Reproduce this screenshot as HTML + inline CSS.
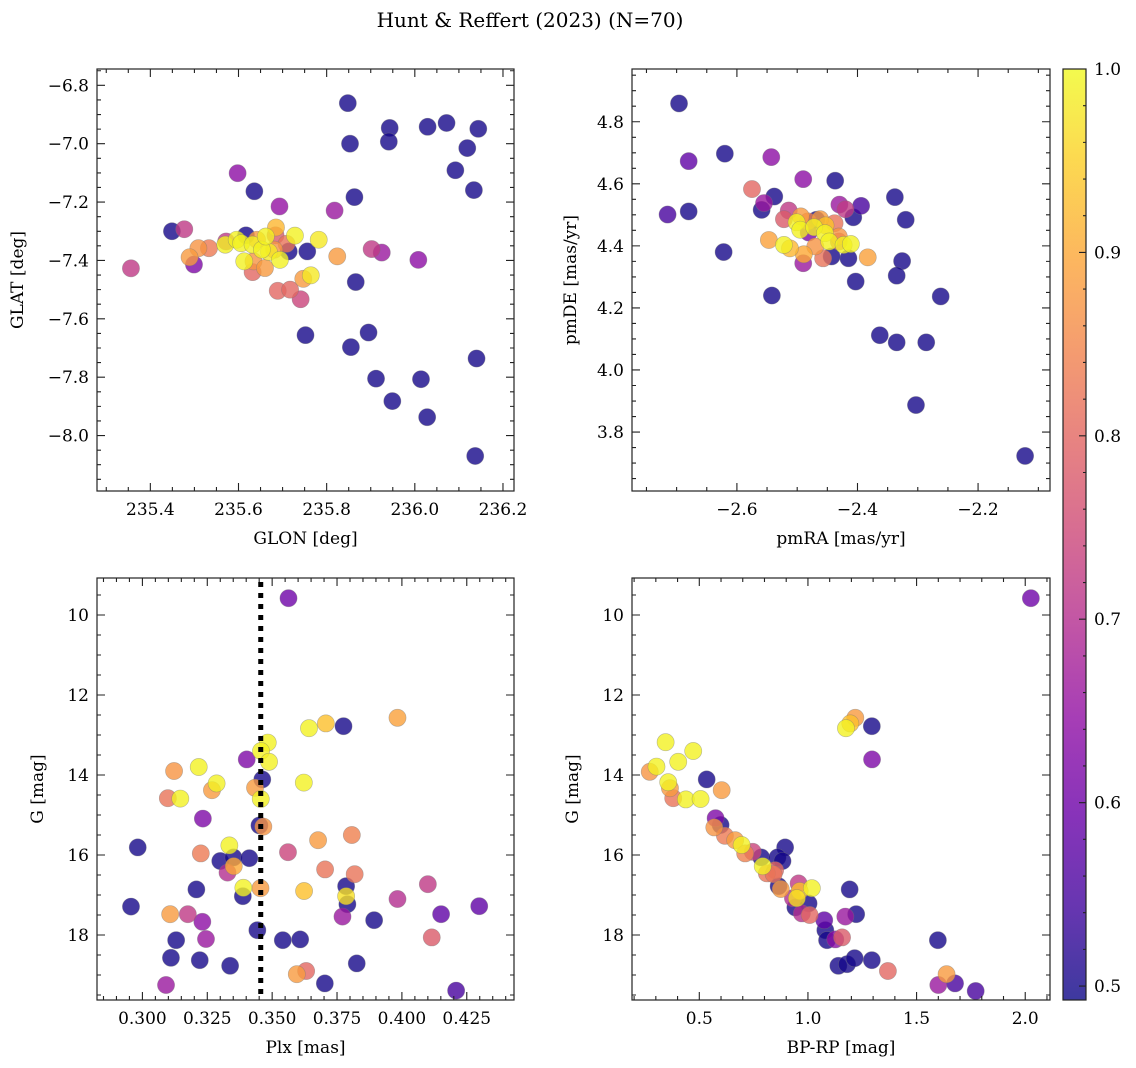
<!DOCTYPE html>
<html><head><meta charset="utf-8"><style>
html,body{margin:0;padding:0;background:#fff;}
svg{display:block;font-family:"DejaVu Serif","Liberation Serif",serif;}
</style></head><body>
<svg id="fig" width="1136" height="1068" viewBox="0 0 1136 1068" xmlns="http://www.w3.org/2000/svg">
<text x="530" y="27" font-size="20" text-anchor="middle">Hunt &amp; Reffert (2023) (N=70)</text>
</svg>
<script>
// ---- Panel 1: GLON / GLAT ----
const p1Glon=[235.848,235.853,235.943,235.941,236.029,236.072,236.144,236.119,236.092,236.134,235.863,235.636,235.598,235.693,235.818,235.449,235.477,235.499,235.356,235.902,235.925,236.008,235.756,235.714,235.617,235.866,235.752,235.895,235.855,235.912,236.014,235.949,236.028,236.140,236.137,235.741,235.689,235.717,235.747,235.764,235.824,235.782,235.728,235.685,235.684,235.709,235.694,235.660,235.632,235.634,235.613,235.489,235.509,235.533,235.572,235.570,235.596,235.606,235.632,235.653,235.662,235.669,235.681,235.642];
const p1Glat=[-6.861,-7.000,-6.946,-6.993,-6.942,-6.929,-6.949,-7.015,-7.091,-7.159,-7.183,-7.163,-7.101,-7.215,-7.229,-7.300,-7.293,-7.414,-7.427,-7.361,-7.373,-7.398,-7.369,-7.369,-7.314,-7.474,-7.656,-7.647,-7.697,-7.805,-7.807,-7.882,-7.937,-7.736,-8.070,-7.533,-7.504,-7.500,-7.463,-7.451,-7.386,-7.329,-7.315,-7.287,-7.314,-7.343,-7.398,-7.426,-7.440,-7.403,-7.403,-7.389,-7.358,-7.358,-7.335,-7.346,-7.329,-7.341,-7.346,-7.363,-7.318,-7.371,-7.363,-7.329];
const p1Prob=[0.5,0.5,0.5,0.5,0.5,0.5,0.5,0.5,0.5,0.5,0.5,0.5,0.64,0.65,0.66,0.5,0.72,0.62,0.72,0.72,0.66,0.64,0.5,0.5,0.5,0.5,0.5,0.5,0.5,0.5,0.5,0.5,0.5,0.5,0.5,0.74,0.8,0.8,0.88,0.98,0.88,0.98,0.99,0.92,0.78,0.82,0.99,0.88,0.8,0.87,0.99,0.88,0.87,0.83,0.72,0.99,0.99,0.99,0.99,0.99,0.99,0.98,0.87,0.88];
// ---- Panel 2: pmRA / pmDE ----
const p2Pmra=[-2.696,-2.715,-2.680,-2.680,-2.620,-2.622,-2.543,-2.538,-2.559,-2.555,-2.542,-2.575,-2.490,-2.437,-2.514,-2.522,-2.430,-2.420,-2.394,-2.407,-2.338,-2.320,-2.326,-2.335,-2.403,-2.415,-2.443,-2.262,-2.363,-2.335,-2.286,-2.303,-2.122,-2.490,-2.489,-2.547,-2.522,-2.512,-2.501,-2.495,-2.494,-2.481,-2.468,-2.472,-2.470,-2.457,-2.453,-2.454,-2.438,-2.447,-2.431,-2.423,-2.411,-2.383,-2.482,-2.431,-2.462];
const p2Pmde=[4.859,4.501,4.673,4.511,4.697,4.380,4.686,4.559,4.516,4.538,4.240,4.583,4.615,4.610,4.514,4.486,4.533,4.518,4.529,4.492,4.557,4.484,4.351,4.304,4.285,4.360,4.366,4.237,4.112,4.089,4.089,3.887,3.723,4.344,4.373,4.419,4.403,4.392,4.476,4.452,4.495,4.443,4.484,4.460,4.398,4.360,4.466,4.441,4.473,4.414,4.430,4.403,4.406,4.363,4.479,4.414,4.486];
const p2Prob=[0.5,0.55,0.58,0.5,0.5,0.5,0.64,0.5,0.5,0.66,0.5,0.8,0.64,0.5,0.72,0.78,0.66,0.72,0.55,0.5,0.5,0.5,0.5,0.5,0.5,0.5,0.5,0.5,0.5,0.5,0.5,0.5,0.5,0.66,0.9,0.89,0.99,0.92,0.99,0.99,0.88,0.62,0.5,0.99,0.87,0.82,0.93,0.99,0.82,0.99,0.87,0.99,0.99,0.89,0.84,0.78,0.88];
// ---- Panel 3: Plx / G ----
const p3Plx=[0.3563,0.3983,0.3707,0.3642,0.3775,0.3483,0.3457,0.3488,0.3402,0.3122,0.3217,0.3286,0.3268,0.3098,0.3146,0.3462,0.3434,0.3456,0.3622,0.3233,0.3451,0.3466,0.3677,0.3807,0.2982,0.3225,0.3561,0.3335,0.3300,0.3351,0.3412,0.3352,0.3328,0.3704,0.3818,0.3389,0.3387,0.3208,0.3455,0.3623,0.3785,0.3785,0.3790,0.4100,0.3983,0.4298,0.2956,0.3107,0.3175,0.3231,0.3771,0.4151,0.3893,0.3443,0.4115,0.3130,0.3245,0.3541,0.3608,0.3110,0.3221,0.3338,0.3826,0.3631,0.3595,0.3703,0.3091,0.4209];
const p3G=[9.58,12.57,12.71,12.83,12.78,13.19,13.40,13.67,13.61,13.90,13.80,14.21,14.38,14.58,14.59,14.11,14.32,14.60,14.19,15.09,15.26,15.29,15.63,15.50,15.81,15.96,15.93,15.76,16.15,16.06,16.08,16.28,16.44,16.36,16.48,16.82,17.03,16.86,16.83,16.90,16.78,17.03,17.23,16.73,17.10,17.28,17.29,17.48,17.48,17.67,17.54,17.48,17.63,17.88,18.06,18.13,18.10,18.13,18.11,18.57,18.63,18.77,18.71,18.90,18.98,19.21,19.25,19.39];
const p3Prob=[0.6,0.89,0.93,0.99,0.5,0.99,0.99,0.99,0.62,0.87,0.99,0.99,0.88,0.82,0.99,0.5,0.88,0.99,0.99,0.62,0.5,0.87,0.88,0.84,0.5,0.83,0.74,0.99,0.5,0.5,0.5,0.9,0.7,0.82,0.82,0.99,0.5,0.5,0.88,0.93,0.5,0.97,0.5,0.72,0.7,0.58,0.5,0.88,0.72,0.64,0.66,0.58,0.5,0.5,0.78,0.5,0.66,0.5,0.5,0.5,0.5,0.5,0.5,0.8,0.88,0.5,0.66,0.55];
const p3Cut=[0.3456];
// ---- Panel 4: BP-RP / G ----
const p4Bprp=[2.026,1.218,1.195,1.175,1.294,1.295,0.345,0.472,0.403,0.303,0.272,0.357,0.365,0.380,0.438,0.506,0.534,0.603,0.575,0.598,0.569,0.618,0.665,0.695,0.711,0.746,0.785,0.792,0.811,0.895,0.860,0.883,0.849,0.842,0.865,0.875,0.957,0.962,1.018,0.931,0.949,1.003,0.942,0.972,1.008,1.192,1.172,1.222,1.075,1.080,1.088,1.126,1.157,1.598,1.140,1.180,1.215,1.294,1.368,1.638,1.600,1.677,1.772];
const p4G=[9.58,12.57,12.71,12.83,12.78,13.61,13.18,13.40,13.67,13.79,13.92,14.18,14.33,14.58,14.61,14.60,14.11,14.38,15.08,15.25,15.31,15.52,15.63,15.75,15.96,15.92,16.06,16.28,16.46,15.81,16.06,16.15,16.38,16.48,16.78,16.85,16.71,16.90,16.83,17.08,17.08,17.21,17.31,17.46,17.50,16.86,17.54,17.48,17.63,17.88,18.13,18.11,18.06,18.13,18.77,18.73,18.58,18.63,18.90,18.98,19.25,19.21,19.40];
const p4Prob=[0.6,0.88,0.93,0.99,0.5,0.62,0.99,0.99,0.99,0.99,0.87,0.99,0.88,0.82,0.99,0.99,0.5,0.88,0.62,0.5,0.87,0.83,0.88,0.99,0.84,0.74,0.5,0.99,0.82,0.5,0.5,0.5,0.8,0.82,0.5,0.88,0.72,0.93,0.99,0.7,0.97,0.5,0.5,0.7,0.8,0.5,0.66,0.5,0.58,0.5,0.5,0.64,0.78,0.5,0.5,0.5,0.5,0.5,0.8,0.88,0.66,0.55,0.55];
// ---- Colorbar ----
const cbTicks=[0.5,0.6,0.7,0.8,0.9,1.0];
const cbTickLabels=["0.5","0.6","0.7","0.8","0.9","1.0"];
const p1XTicks=[235.4,235.6,235.8,236.0,236.2];
const p1YTicks=[-6.8,-7.0,-7.2,-7.4,-7.6,-7.8,-8.0];
const p2XTicks=[-2.6,-2.4,-2.2];
const p2YTicks=[4.8,4.6,4.4,4.2,4.0,3.8];
const p3XTicks=[0.300,0.325,0.350,0.375,0.400,0.425];
const gTicks=[10,12,14,16,18];
const p4XTicks=[0.5,1.0,1.5,2.0];

const NS="http://www.w3.org/2000/svg";
const svg=document.getElementById('fig');
const VMIN=0.4924, VMAX=1.0;
const plasma=[[13,8,135],[65,4,157],[106,0,168],[143,13,164],[177,42,144],[204,71,120],[225,100,98],[242,132,75],[252,166,54],[252,206,37],[240,249,33]];
function cmap(v){let t=(v-VMIN)/(VMAX-VMIN);t=Math.max(0,Math.min(1,t));const s=t*10;const i=Math.min(9,Math.floor(s));const f=s-i;const a=plasma[i],b=plasma[i+1];
 return 'rgb('+[0,1,2].map(k=>Math.round(a[k]+(b[k]-a[k])*f)).join(',')+')';}
function el(tag,attrs,parent){const e=document.createElementNS(NS,tag);for(const k in attrs)e.setAttribute(k,attrs[k]);(parent||svg).appendChild(e);return e;}
function fmt(v,d){const s=Math.abs(v).toFixed(d);return (v<0?'\u2212':'')+s;}

function panel(cfg){
 const g=el('g',{});
 
 
 const [L,T,R,B]=cfg.box;
 const sx=v=>L+(v-cfg.x0)/(cfg.x1-cfg.x0)*(R-L);
 const sy=v=>T+(v-cfg.y0)/(cfg.y1-cfg.y0)*(B-T);
 const idx=cfg.xs.map((_,i)=>i).sort((a,b)=>cfg.ps[a]-cfg.ps[b]);
 const pts=el('g',{},g);
 
 
 idx.forEach(i=>{
  const c=el('circle',{cx:sx(cfg.xs[i]),cy:sy(cfg.ys[i]),r:8.6,fill:cmap(cfg.ps[i]),'fill-opacity':0.8,stroke:'#777','stroke-opacity':0.5,'stroke-width':0.6},pts);
  
  
 });
 if(cfg.vline){const ln=el('line',{x1:sx(cfg.vline[0]),x2:sx(cfg.vline[0]),y1:T+4,y2:B,stroke:'#000','stroke-width':5,'stroke-dasharray':'5 6'},g);
  
  }
 const fr=el('rect',{x:L,y:T,width:R-L,height:B-T,fill:'none',stroke:'#222','stroke-width':1.2},g);
 
 
 const minorX=[],minorY=[];
 for(let v=Math.ceil(Math.min(cfg.x0,cfg.x1)/cfg.xm-1e-6)*cfg.xm;v<=Math.max(cfg.x0,cfg.x1)+1e-9;v+=cfg.xm)minorX.push(v);
 for(let v=Math.ceil(Math.min(cfg.y0,cfg.y1)/cfg.ym-1e-6)*cfg.ym;v<=Math.max(cfg.y0,cfg.y1)+1e-9;v+=cfg.ym)minorY.push(v);
 let d='';
 minorX.forEach(v=>{const x=sx(v);d+=`M${x},${B}v-4M${x},${T}v4`;});
 minorY.forEach(v=>{const y=sy(v);d+=`M${L},${y}h4M${R},${y}h-4`;});
 cfg.xt.forEach(v=>{const x=sx(v);d+=`M${x},${B}v-8M${x},${T}v8`;});
 cfg.yt.forEach(v=>{const y=sy(v);d+=`M${L},${y}h8M${R},${y}h-8`;});
 const tp=el('path',{d:d,stroke:'#222','stroke-width':1.1,fill:'none'},g);
 
 
 cfg.xt.forEach(v=>{const t=el('text',{x:sx(v),y:B+24,'font-size':17,'text-anchor':'middle'},g);t.textContent=fmt(v,cfg.xd);
  
  });
 cfg.yt.forEach(v=>{const t=el('text',{x:L-8,y:sy(v)+6,'font-size':17,'text-anchor':'end'},g);t.textContent=fmt(v,cfg.yd);
  
  });
 const xl=el('text',{x:(L+R)/2,y:B+53,'font-size':17,'text-anchor':'middle'},g);xl.textContent=cfg.xlab;
 
 
 const ycx=cfg.ylx,ycy=(T+B)/2;
 const yl=el('text',{x:ycx,y:ycy,'font-size':17,'text-anchor':'middle',transform:`rotate(-90 ${ycx} ${ycy})`},g);yl.textContent=cfg.ylab;
 
 
}

panel({name:'glon-glat-panel',box:[97,69,514,491],x0:235.279,x1:236.225,y0:-6.744,y1:-8.19,xs:p1Glon,ys:p1Glat,ps:p1Prob,xt:p1XTicks,yt:p1YTicks,xm:0.05,ym:0.05,xd:1,yd:1,xlab:'GLON [deg]',ylab:'GLAT [deg]',ylx:23});
panel({name:'proper-motion-panel',box:[632,69,1050,491],x0:-2.774,x1:-2.0807,y0:4.97,y1:3.61,xs:p2Pmra,ys:p2Pmde,ps:p2Prob,xt:p2XTicks,yt:p2YTicks,xm:0.05,ym:0.05,xd:1,yd:1,xlab:'pmRA [mas/yr]',ylab:'pmDE [mas/yr]',ylx:576});
panel({name:'parallax-mag-panel',box:[97,578,514,1000],x0:0.2825,x1:0.4432,y0:9.075,y1:19.625,xs:p3Plx,ys:p3G,ps:p3Prob,xt:p3XTicks,yt:gTicks,xm:0.005,ym:0.5,xd:3,yd:0,xlab:'Plx [mas]',ylab:'G [mag]',ylx:43,vline:p3Cut});
panel({name:'color-mag-panel',box:[632,578,1050,1000],x0:0.1903,x1:2.114,y0:9.075,y1:19.625,xs:p4Bprp,ys:p4G,ps:p4Prob,xt:p4XTicks,yt:gTicks,xm:0.1,ym:0.5,xd:1,yd:0,xlab:'BP-RP [mag]',ylab:'G [mag]',ylx:578});

(function(){
 const L=1063,R=1086,T=69,B=1000;
 const g=el('g',{});
 
 
 const defs=el('defs',{},g);
 const lg=el('linearGradient',{id:'cbg',x1:0,y1:1,x2:0,y2:0},defs);
 for(let k=0;k<=20;k++){const v=VMIN+(VMAX-VMIN)*k/20;el('stop',{offset:k/20,'stop-color':cmap(v)},lg);}
 el('rect',{x:L,y:T,width:R-L,height:B-T,fill:'url(#cbg)','fill-opacity':0.8},g);
 el('rect',{x:L,y:T,width:R-L,height:B-T,fill:'none',stroke:'#222','stroke-width':1.2},g);
 const sy=v=>B-(v-VMIN)/(VMAX-VMIN)*(B-T);
 let d='';
 for(let v=0.5;v<=1.0001;v+=0.02){d+=`M${R},${sy(v)}h-3`;}
 cbTicks.forEach(v=>{d+=`M${R},${sy(v)}h-7`;});
 el('path',{d:d,stroke:'#222','stroke-width':1.1},g);
 cbTicks.forEach((v,i)=>{const t=el('text',{x:R+8,y:sy(v)+6,'font-size':17},g);t.textContent=cbTickLabels[i];
  
  });
})();
</script>
</body></html>
